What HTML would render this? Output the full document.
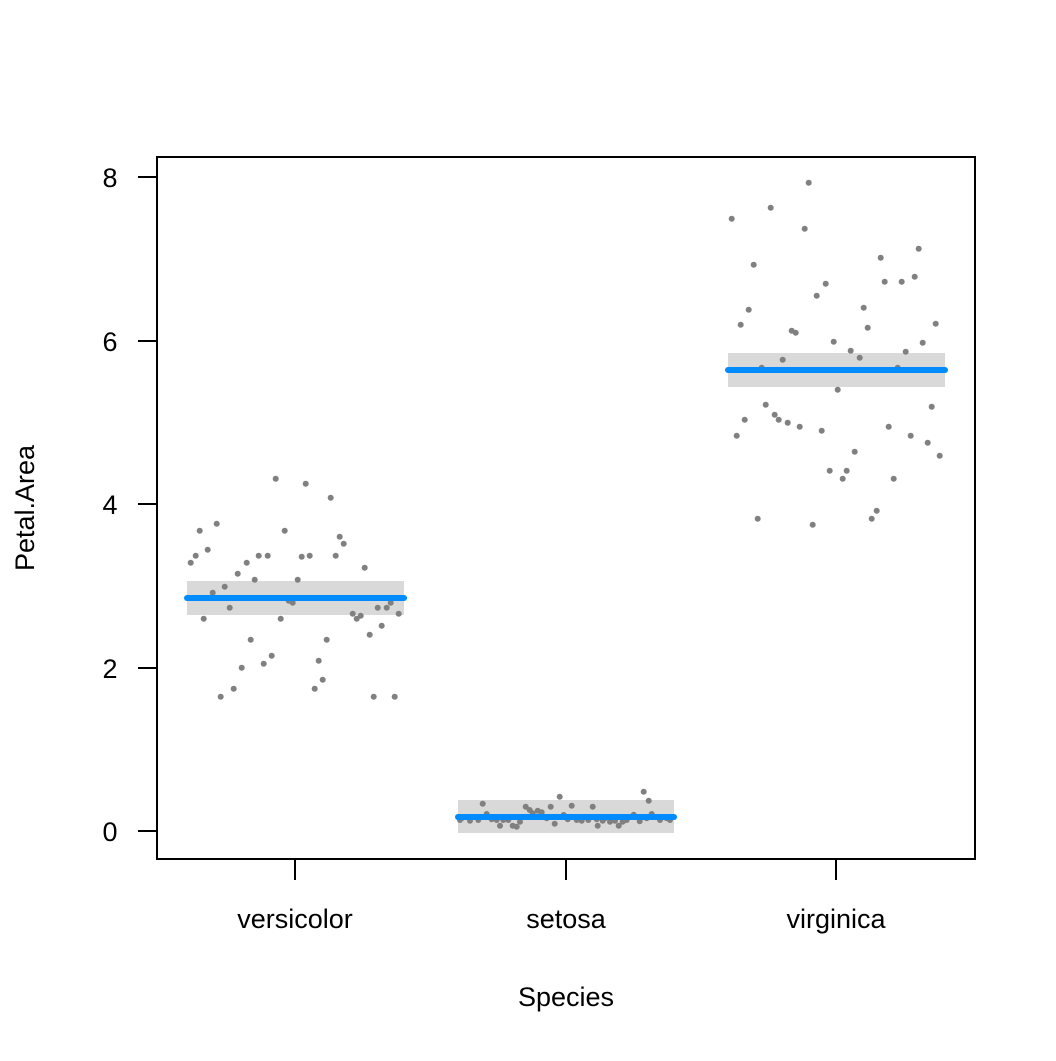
<!DOCTYPE html>
<html><head><meta charset="utf-8"><style>html,body{margin:0;padding:0;background:#fff}</style></head>
<body>
<svg id="s" width="1056" height="1056" xmlns="http://www.w3.org/2000/svg" font-family="Liberation Sans, Arial, sans-serif">
<rect width="1056" height="1056" fill="#fff"/>
<rect x="187" y="581" width="217" height="34" fill="#d9d9d9"/>
<rect x="458" y="800" width="216" height="33" fill="#d9d9d9"/>
<rect x="728" y="353" width="217" height="34" fill="#d9d9d9"/>
<g id="pts" fill="#808080"></g>
<g stroke="#008cff" stroke-width="6" stroke-linecap="round">
<line x1="187" y1="598" x2="404" y2="598"/>
<line x1="458" y1="817" x2="674" y2="817"/>
<line x1="728" y1="370" x2="945" y2="370"/>
</g>
<rect x="157" y="157" width="818" height="702" fill="none" stroke="#000" stroke-width="2"/>
<g stroke="#000" stroke-width="2">
<line x1="138" y1="177" x2="157" y2="177"/><line x1="138" y1="341" x2="157" y2="341"/>
<line x1="138" y1="504" x2="157" y2="504"/><line x1="138" y1="668" x2="157" y2="668"/>
<line x1="138" y1="831" x2="157" y2="831"/>
<line x1="295" y1="859" x2="295" y2="880"/><line x1="566" y1="859" x2="566" y2="880"/>
<line x1="836" y1="859" x2="836" y2="880"/>
</g>
<g font-size="27" fill="#000" text-anchor="middle">
<text x="110" y="187">8</text><text x="110" y="351">6</text><text x="110" y="514">4</text>
<text x="110" y="678">2</text><text x="110" y="841">0</text>
<text x="295" y="928">versicolor</text><text x="566" y="928">setosa</text><text x="836" y="928">virginica</text>
<text x="566" y="1006">Species</text>
<text transform="translate(34,508) rotate(-90)">Petal.Area</text>
</g>
</svg>
<script>
var g=document.getElementById('pts'),h='';
function add(ox,oy,a){for(var i=0;i<a.length;i+=2){h+='<circle cx="'+(ox+a[i]/3).toFixed(1)+'" cy="'+(oy+a[i+1]/3).toFixed(1)+'" r="3"/>';}}
add(170,460,[317,56,407,71,482,113,140,191,89,212,344,212,509,230,521,251,113,269,77,287,266,287,293,287,419,287,497,287,395,290,62,308,230,308,584,323,203,341,254,359,383,359,164,380,128,398,356,422,368,428,179,443,623,443,650,443,662,428,101,476,332,476,548,461,560,476,572,467,686,461,635,497,599,524,242,539,470,539,305,587,281,611,215,623,446,602,458,659,191,686,434,686,152,710,611,710,674,710]);
add(690,170,[356,38,242,113,125,146,344,176,686,236,572,263,191,284,584,335,635,335,674,320,407,341,380,377,176,419,521,413,152,464,533,473,737,461,305,482,317,488,431,515,698,518,482,542,647,545,509,563,278,569,215,593,623,593,443,659,227,704,725,710,254,734,266,749,164,749,293,758,329,770,395,782,596,770,140,797,662,797,713,818,494,845,749,857,419,902,470,902,458,926,611,926,560,1022,203,1046,545,1046,368,1064]);
add(440,780,[611,35,626,62,359,50,128,71,395,77,458,80,332,80,257,80,269,90,293,92,305,97,140,102,278,100,371,105,581,104,635,102,60,120,90,122,115,120,155,118,170,120,190,120,205,120,240,125,180,137,218,137,230,140,344,131,383,118,410,120,425,122,445,120,473,137,488,122,510,125,525,122,536,137,548,125,560,120,599,124,660,120,690,120,320,115,495,115,65,115,470,118,620,115,680,115]);
g.innerHTML=h;
</script>
</body></html>
